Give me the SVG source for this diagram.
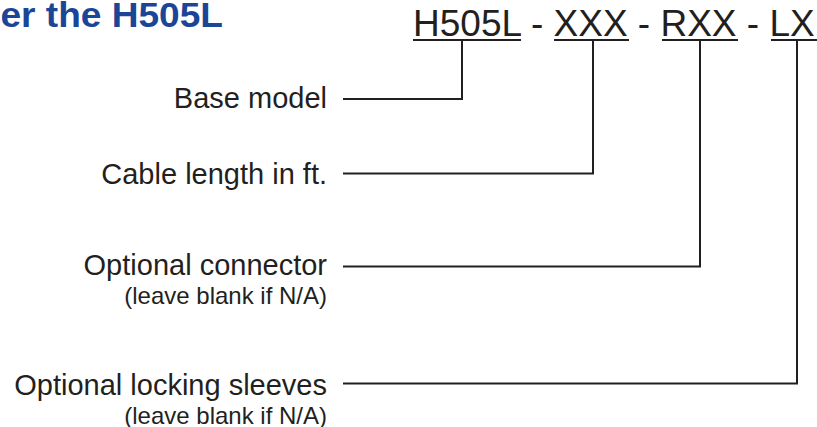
<svg xmlns="http://www.w3.org/2000/svg" width="817" height="427" viewBox="0 0 817 427">
<style>
.t{font-family:"Liberation Sans",Arial,sans-serif;fill:#231f20}
.lbl{font-size:29px;text-anchor:end}
.sm{font-size:24px;text-anchor:end}
.code{font-size:37px}
.ttl{font-family:"Liberation Sans",Arial,sans-serif;font-weight:bold;font-size:35px;fill:#1b4596}
.ln{fill:none;stroke:#231f20;stroke-width:2}
</style>
<rect width="817" height="427" fill="#ffffff"/>
<g id="title">
<text class="ttl" x="0.5" y="27" textLength="222.5" lengthAdjust="spacingAndGlyphs">er the H505L</text>
</g>
<g id="code">
<text class="t code" x="413" y="36">H505L - XXX - RXX - LX</text>
<line class="ln" x1="413" y1="40" x2="521" y2="40"/>
<line class="ln" x1="554" y1="40" x2="629" y2="40"/>
<line class="ln" x1="662" y1="40" x2="738" y2="40"/>
<line class="ln" x1="771" y1="40" x2="817" y2="40"/>
</g>
<g id="base-model">
<text class="t lbl" x="327" y="107.5">Base model</text>
</g>
<g id="cable-length">
<text class="t lbl" x="327" y="183.5">Cable length in ft.</text>
</g>
<g id="optional-connector">
<text class="t lbl" x="327" y="275">Optional connector</text>
<text class="t sm" x="327" y="304">(leave blank if N/A)</text>
</g>
<g id="optional-sleeves">
<text class="t lbl" x="327" y="395">Optional locking sleeves</text>
<text class="t sm" x="327" y="423.5">(leave blank if N/A)</text>
</g>
<g id="connectors">
<path class="ln" d="M343 99 H462 V40"/>
<path class="ln" d="M343 173.5 H593 V40"/>
<path class="ln" d="M343 266.5 H700 V40"/>
<path class="ln" d="M343 383.5 H797 V40"/>
</g>
</svg>
